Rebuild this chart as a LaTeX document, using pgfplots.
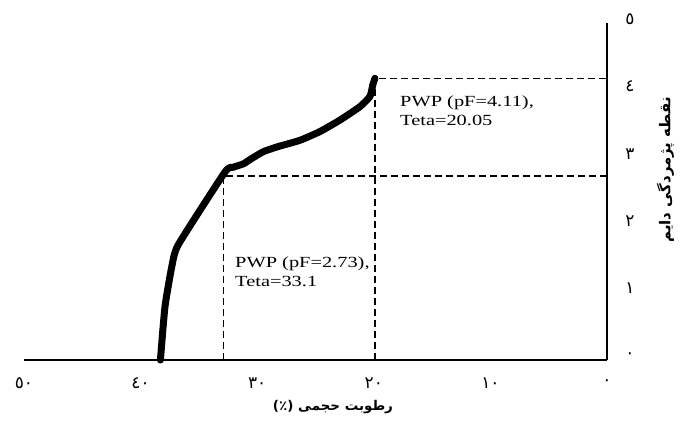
\documentclass[border=0pt]{standalone}
\usepackage{pgfplots}
\pgfplotsset{compat=1.18}
\usepackage{fontspec}
\usepackage{graphicx}
\setmainfont{Liberation Serif}
\newfontfamily\arabicfont[Script=Arabic]{DejaVu Sans}
\TeXXeTstate=1
\begin{document}
\begin{tikzpicture}[x=1bp,y=1bp]
\useasboundingbox (0,0) rectangle (681,421);
\begin{axis}[
  at={(24bp,61bp)}, anchor=south west, scale only axis,
  width=583bp, height=337bp,
  xmin=0, xmax=50, ymin=0, ymax=5, x dir=reverse,
  axis x line=bottom, axis y line=right,
  axis line style={line width=1.6bp, -},
  xtick={0,10,20,30,40,50}, ytick={0,1,2,3,4,5},
  xticklabels={٠,١٠,٢٠,٣٠,٤٠,٥٠},
  yticklabels={٠,١,٢,٣,٤,٥},
  major tick length=0pt,
  xticklabel style={anchor=center, yshift=-23bp, font=\arabicfont\fontsize{17}{19}\selectfont},
  yticklabel style={anchor=center, xshift=23bp, yshift=4bp, font=\arabicfont\fontsize{17}{19}\selectfont},
  clip=false,
]
\addplot[black, line width=1.3bp, dash pattern=on 7bp off 4bp] coordinates {(32.9,0) (32.9,2.73) (0,2.73)};
\addplot[black, line width=1.3bp, dash pattern=on 7bp off 4bp] coordinates {(19.9,0) (19.9,4.18) (0,4.18)};
\addplot[black, line width=7bp, line cap=round, line join=round, smooth, tension=0.3] coordinates {
(38.3,0) (37.91,0.79) (37.33,1.38) (36.77,1.71) (32.76,2.79) (32.05,2.86) (31.19,2.91)
(30.47,2.99) (29.48,3.09) (28.33,3.16) (26.33,3.26) (24.61,3.39) (22.90,3.56)
(21.18,3.76) (20.33,3.91) (20.09,4.08) (19.90,4.18)};
\node[anchor=north west, inner sep=0pt, align=left, font=\fontsize{15.5}{19}\selectfont]
  at (axis cs:31.9,1.54) {\scalebox{1.32}[1]{PWP (pF=2.73),}\\\scalebox{1.32}[1]{Teta=33.1}};
\node[anchor=north west, inner sep=0pt, align=left, font=\fontsize{15.5}{19}\selectfont]
  at (axis cs:17.75,3.92) {\scalebox{1.32}[1]{PWP (pF=4.11),}\\\scalebox{1.32}[1]{Teta=20.05}};
\node[font=\arabicfont\bfseries\fontsize{13.5}{15}\selectfont] at (axis cs:23.5,-0.70)
  {(٪) \beginR رطوبت حجمی\endR};
\node[rotate=90, font=\arabicfont\bfseries\fontsize{15}{17}\selectfont] at (axis cs:-5,2.82)
  {\beginR نقطه پژمردگی دایم\endR};
\end{axis}
\end{tikzpicture}
\end{document}
